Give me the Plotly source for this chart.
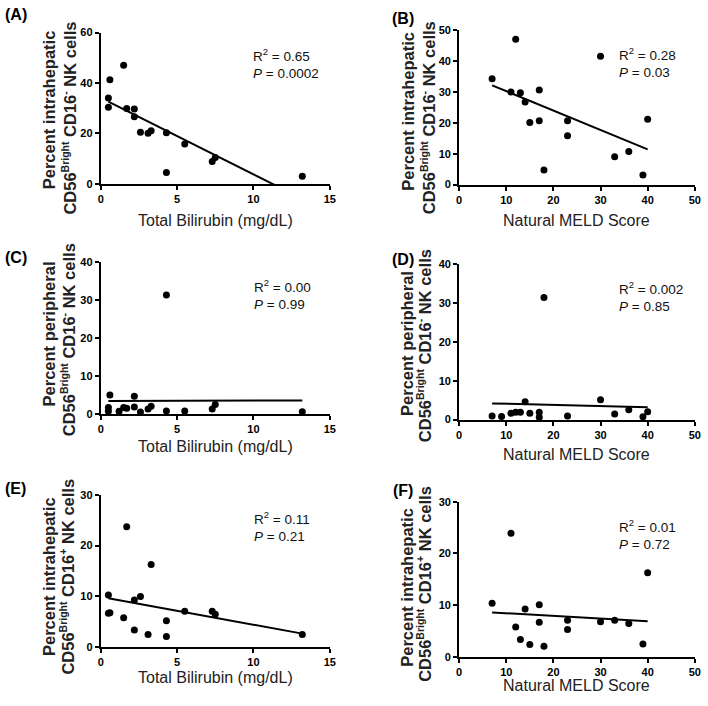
import numpy as np
import plotly.graph_objects as go

W, H = 708, 706

# ---------------- data ----------------
bili_A = [0.5, 0.5, 0.6, 1.5, 1.7, 2.2, 2.2, 2.6, 3.1, 3.3, 4.3, 4.3, 5.5, 7.3, 7.5, 13.2]
ihep_neg_A = [30.4, 34.1, 41.3, 47.0, 29.9, 29.7, 26.6, 20.5, 20.1, 21.1, 20.3, 4.5, 15.8, 8.9, 10.5, 3.0]

meld_B = [7, 11, 12, 13, 14, 15, 17, 17, 18, 23, 23, 30, 33, 36, 39, 40]
ihep_neg_B = [34.2, 29.9, 47.0, 29.7, 26.7, 20.1, 30.6, 20.6, 4.7, 20.6, 15.8, 41.5, 9.0, 10.7, 3.1, 21.1]

bili_C = [0.6, 0.5, 0.5, 1.2, 1.5, 1.7, 2.2, 2.2, 2.6, 3.1, 3.3, 4.3, 4.3, 5.5, 7.3, 7.5, 13.2]
periph_neg_C = [5.0, 1.7, 0.7, 0.7, 1.7, 1.5, 4.7, 1.8, 0.5, 1.3, 2.0, 31.4, 0.8, 0.8, 1.3, 2.5, 0.6]

meld_D = [7, 9, 11, 12, 13, 14, 15, 17, 17, 18, 23, 30, 33, 36, 39, 40]
periph_neg_D = [0.9, 0.8, 1.6, 1.9, 1.9, 4.6, 1.6, 1.9, 0.6, 31.4, 0.9, 5.1, 1.4, 2.5, 0.7, 2.0]

bili_E = [0.5, 0.5, 0.6, 1.5, 1.7, 2.2, 2.2, 2.6, 3.1, 3.3, 4.3, 4.3, 5.5, 7.3, 7.5, 13.2]
ihep_pos_E = [10.3, 6.7, 6.8, 5.8, 23.7, 9.3, 3.4, 10.0, 2.5, 16.3, 5.2, 2.1, 7.1, 7.1, 6.5, 2.5]

meld_F = [7, 11, 12, 13, 14, 15, 17, 17, 18, 23, 23, 30, 33, 36, 39, 40]
ihep_pos_F = [10.4, 23.9, 5.8, 3.4, 9.3, 2.4, 10.1, 6.7, 2.1, 7.1, 5.3, 6.8, 7.1, 6.5, 2.5, 16.3]

panel_labels = ["(A)", "(B)", "(C)", "(D)", "(E)", "(F)"]
stats_r2 = ["0.65", "0.28", "0.00", "0.002", "0.11", "0.01"]
stats_p = ["0.0002", "0.03", "0.99", "0.85", "0.21", "0.72"]
x_titles = ["Total Bilirubin (mg/dL)", "Natural MELD Score"] * 3
y_title_line1 = ["Percent intrahepatic", "Percent intrahepatic",
                 "Percent peripheral", "Percent peripheral",
                 "Percent intrahepatic", "Percent intrahepatic"]
y_title_sign = ["-", "-", "-", "-", "+", "+"]
x_ticks = [[0, 5, 10, 15], [0, 10, 20, 30, 40, 50]] * 3
y_ticks = [[0, 20, 40, 60], [0, 10, 20, 30, 40, 50],
           [0, 10, 20, 30, 40], [0, 10, 20, 30, 40],
           [0, 10, 20, 30], [0, 10, 20, 30]]

series = [(bili_A, ihep_neg_A), (meld_B, ihep_neg_B), (bili_C, periph_neg_C),
          (meld_D, periph_neg_D), (bili_E, ihep_pos_E), (meld_F, ihep_pos_F)]

# ---------------- layout geometry (pixels) ----------------
plot_boxes = [  # x0, x1, ytop, ybottom
    (99, 331, 27, 181), (462, 700.7, 24.3, 181.7),
    (99, 331, 260.7, 415), (462, 700.7, 262.7, 420.7),
    (99, 331, 497.3, 652.3), (462, 700.7, 504.3, 662.3),
]
label_pos = [(13, 9), (405, 13), (13, 256), (405, 258), (13, 491), (405, 493)]
stats_pos = [(251, 58), (622, 57), (252, 293), (622, 295.5), (252, 530), (622, 537.5)]
xtitle_y = [218.3, 218.3, 448.3, 456.7, 683.3, 691]
# (x, y) centres of the two rotated y-title lines
ytitle1_pos = [(46.7, 106), (410.7, 107), (46.7, 334), (409, 343), (46.7, 580.8), (409, 591)]
ytitle2_pos = [(66.7, 113.7), (430.7, 114), (66.7, 339.2), (426.7, 345.8), (64.5, 580.8), (427, 588.3)]


def px(x):
    return x / W


def py(y):
    return 1 - y / H


FONT = "Liberation Sans, Arial, sans-serif"
SUP = '<sup><span style="font-size:10.5px">{}</span></sup>'
fig = go.Figure()
annotations = []

for i, ((xs, ys), box) in enumerate(zip(series, plot_boxes)):
    n = i + 1
    xa = "x" if n == 1 else f"x{n}"
    ya = "y" if n == 1 else f"y{n}"
    # points
    fig.add_trace(go.Scatter(
        x=xs, y=ys, mode="markers", xaxis=xa, yaxis=ya,
        marker=dict(color="black", size=7, line=dict(width=0)),
        cliponaxis=False, showlegend=False, hoverinfo="x+y"))
    # linear regression line
    slope, intercept = np.polyfit(xs, ys, 1)
    lx = np.array([min(xs), max(xs)])
    fig.add_trace(go.Scatter(
        x=lx, y=slope * lx + intercept, mode="lines", xaxis=xa, yaxis=ya,
        line=dict(color="black", width=2), showlegend=False, hoverinfo="skip"))

    x0, x1, yt, yb = box
    axis_common = dict(showline=True, linecolor="black", linewidth=2,
                       ticks="outside", ticklen=4, tickwidth=2, tickcolor="black",
                       showgrid=False, zeroline=False, fixedrange=True,
                       ticklabeloverflow="allow",
                       tickfont=dict(family=FONT, size=11, color="black", weight="bold"))
    xt = x_ticks[i]
    yt_vals = y_ticks[i]
    fig.update_layout(**{
        ("xaxis" if n == 1 else f"xaxis{n}"): dict(
            domain=[px(x0), px(x1)], anchor=ya, range=[0, xt[-1]],
            tickvals=xt, **axis_common),
        ("yaxis" if n == 1 else f"yaxis{n}"): dict(
            domain=[py(yb), py(yt)], anchor=xa, range=[0, yt_vals[-1]],
            tickvals=yt_vals, **axis_common),
    })

    lx_, ly_ = label_pos[i]
    annotations.append(dict(text=f"<b>{panel_labels[i]}</b>", x=px(lx_), y=py(ly_),
                            xref="paper", yref="paper", xanchor="center", yanchor="middle",
                            showarrow=False, font=dict(family=FONT, size=16, color="black")))
    sx, sy = stats_pos[i]
    annotations.append(dict(text=f"R<sup>2</sup> = {stats_r2[i]}<br><i>P</i> = {stats_p[i]}",
                            x=px(sx), y=py(sy), xref="paper", yref="paper",
                            xanchor="left", yanchor="middle", align="left",
                            showarrow=False, font=dict(family=FONT, size=13.5, color="#111")))
    annotations.append(dict(text=x_titles[i], x=px((x0 + x1) / 2), y=py(xtitle_y[i]),
                            xref="paper", yref="paper", xanchor="center", yanchor="middle",
                            showarrow=False, font=dict(family=FONT, size=16, color="#222")))
    t1x, t1y = ytitle1_pos[i]
    annotations.append(dict(text=f"<b>{y_title_line1[i]}</b>", x=px(t1x), y=py(t1y),
                            xref="paper", yref="paper", xanchor="center", yanchor="middle",
                            textangle=-90, showarrow=False,
                            font=dict(family=FONT, size=16.5, color="#222")))
    line2 = ("<b>CD56" + SUP.format("Bright") + " CD16" + SUP.format(y_title_sign[i])
             + " NK cells</b>")
    t2x, t2y = ytitle2_pos[i]
    annotations.append(dict(text=line2, x=px(t2x), y=py(t2y),
                            xref="paper", yref="paper", xanchor="center", yanchor="middle",
                            textangle=-90, showarrow=False,
                            font=dict(family=FONT, size=16.5, color="#222")))

fig.update_layout(width=W, height=H, margin=dict(l=0, r=0, t=0, b=0),
                  paper_bgcolor="white", plot_bgcolor="white",
                  annotations=annotations)

fig.write_html("out.html", config={"displayModeBar": False},
               post_script="document.body.style.margin='0';document.body.style.overflow='hidden';")
